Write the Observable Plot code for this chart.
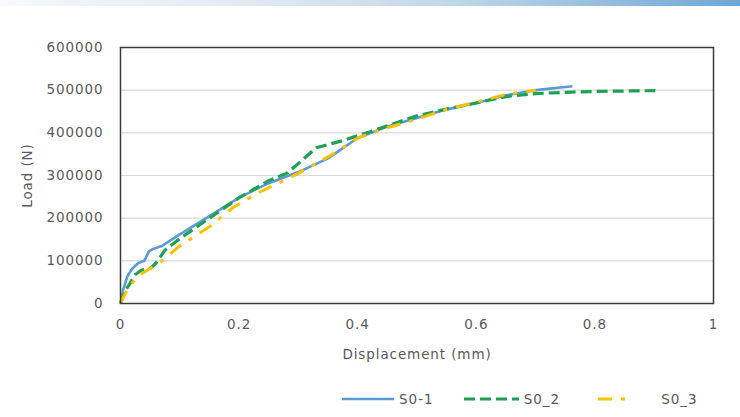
<!DOCTYPE html>
<html>
<head>
<meta charset="utf-8">
<script src="https://cdn.jsdelivr.net/npm/d3@7"></script>
<script src="https://cdn.jsdelivr.net/npm/@observablehq/plot@0.6"></script>
<style>
  html, body { margin: 0; padding: 0; background: #fff; }
  #wrap { position: relative; width: 740px; height: 417px; overflow: hidden; font-family: "DejaVu Sans", sans-serif; }
  #band { position: absolute; left: 0; top: 0; width: 740px; height: 6px;
          background: linear-gradient(to right, #f7f9fb 0%, #e3ebf3 30%, #c3d8ea 60%, #6ea7d5 100%); }
  #chart { position: absolute; left: 0; top: 0; }
  #legend { position: absolute; left: 342px; top: 391px; display: flex; align-items: center;
            font-size: 13.5px; color: #595959; letter-spacing: 1px; }
  .item { display: flex; align-items: center; }
  .item svg { margin-right: 5px; }
</style>
</head>
<body>
<div id="wrap">
  <div id="chart"></div>
  <div id="band"></div>
  <div id="legend"></div>
</div>
<script>
// ---- data ----
const seriesNames = ["S0-1", "S0_2", "S0_3"];

const dispS01 = [0, 0.005, 0.012, 0.02, 0.03, 0.04, 0.048, 0.055, 0.07, 0.1, 0.15, 0.2, 0.25, 0.3, 0.35, 0.4, 0.45, 0.5, 0.55, 0.6, 0.65, 0.7, 0.762];
const loadS01 = [0, 35000, 65000, 82000, 95000, 100000, 122000, 128000, 135000, 162000, 205000, 248000, 282000, 308000, 340000, 388000, 415000, 435000, 455000, 470000, 488000, 500000, 509000];

const dispS02 = [0, 0.008, 0.015, 0.025, 0.035, 0.05, 0.06, 0.075, 0.1, 0.15, 0.2, 0.25, 0.28, 0.3, 0.33, 0.37, 0.42, 0.5, 0.55, 0.6, 0.65, 0.7, 0.75, 0.8, 0.85, 0.902];
const loadS02 = [0, 30000, 45000, 68000, 78000, 82000, 95000, 125000, 152000, 200000, 248000, 288000, 305000, 328000, 365000, 380000, 402000, 440000, 456000, 470000, 485000, 492000, 495000, 497000, 498000, 499000];

const dispS03 = [0, 0.005, 0.015, 0.03, 0.05, 0.07, 0.1, 0.15, 0.19, 0.23, 0.275, 0.3, 0.354, 0.4, 0.45, 0.5, 0.55, 0.6, 0.65, 0.7];
const loadS03 = [0, 15000, 40000, 65000, 82000, 100000, 135000, 180000, 225000, 258000, 288000, 305000, 347000, 388000, 412000, 432000, 455000, 472000, 490000, 500000];

const xTicks = [0, 0.2, 0.4, 0.6, 0.8, 1];
const yTicks = [0, 100000, 200000, 300000, 400000, 500000, 600000];

const colors = ["#5b9bd5", "#1fa055", "#ffc000"];
const dashes = [null, "11,5", "14,9,4,9"];
const widths = [2.6, 3.2, 3];
const legendW = [52, 55, 32];
const legendGap = [30, 38, 0];

const series = [
  {name: seriesNames[0], x: dispS01, y: loadS01},
  {name: seriesNames[1], x: dispS02, y: loadS02},
  {name: seriesNames[2], x: dispS03, y: loadS03}
].map((s, i) => ({...s, data: s.x.map((d, j) => ({disp: d, load: s.y[j]})), color: colors[i], dash: dashes[i], width: widths[i]}));

const plot = Plot.plot({
  width: 740,
  height: 375,
  marginTop: 47,
  marginBottom: 72,
  marginLeft: 120,
  marginRight: 27,
  style: {fontFamily: "DejaVu Sans, sans-serif", fontSize: "13.5px", color: "#595959", background: "transparent", letterSpacing: "0.9px"},
  x: {domain: [0, 1], ticks: xTicks},
  y: {domain: [0, 600000], ticks: yTicks},
  marks: [
    Plot.gridY(yTicks.slice(1, -1), {stroke: "#d9d9d9", strokeOpacity: 1, strokeWidth: 1.2}),
    ...series.map(s => Plot.line(s.data, {x: "disp", y: "load", stroke: s.color, strokeWidth: s.width,
      strokeDasharray: s.dash, curve: "linear", strokeLinejoin: "round", strokeLinecap: "butt"})),
    Plot.frame({stroke: "#3a3a3a", strokeWidth: 1.5}),
    Plot.axisX(xTicks, {tickSize: 0, tickPadding: 16, tickFormat: d => String(d), fill: "#595959",
      label: "Displacement (mm)", labelAnchor: "center", labelArrow: "none", labelOffset: 55}),
    Plot.axisY(yTicks, {tickSize: 0, tickPadding: 17, tickFormat: d3.format("d"), fill: "#595959",
      label: "Load (N)", labelAnchor: "center", labelArrow: "none", labelOffset: 98})
  ]
});
document.getElementById("chart").appendChild(plot);

// legend
const legend = document.getElementById("legend");
series.forEach((s, i) => {
  const item = document.createElement("div");
  item.className = "item";
  item.style.marginRight = legendGap[i] + "px";
  const w = legendW[i];
  const svg = d3.create("svg").attr("width", w).attr("height", 10);
  svg.append("line").attr("x1", 0).attr("x2", w).attr("y1", 5).attr("y2", 5)
    .attr("stroke", s.color).attr("stroke-width", s.width)
    .attr("stroke-dasharray", s.dash);
  item.appendChild(svg.node());
  const t = document.createElement("span");
  t.textContent = s.name;
  if (i === 2) t.style.marginLeft = "26px";
  item.appendChild(t);
  legend.appendChild(item);
});
</script>
</body>
</html>
